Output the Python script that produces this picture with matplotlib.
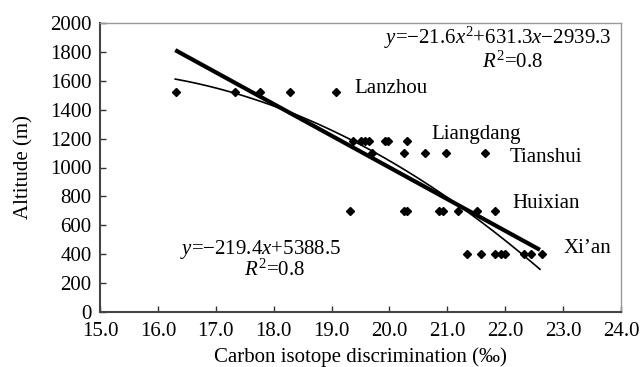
import numpy as np
import matplotlib
matplotlib.use("Agg")
import matplotlib.pyplot as plt

plt.rcParams['font.family'] = ['Liberation Serif', 'DejaVu Serif']
plt.rcParams['mathtext.fontset'] = 'custom'
plt.rcParams['mathtext.rm'] = 'Liberation Serif'
plt.rcParams['mathtext.it'] = 'Liberation Serif:italic'

# Data points (carbon isotope discrimination, altitude)
x_1520 = [16.31, 17.33, 17.76, 18.28, 19.08]
x_1180 = [19.37, 19.50, 19.58, 19.65, 19.92, 19.97, 20.30]
x_1100 = [19.70, 20.25, 20.61, 20.98, 21.65]
x_700 = [19.32, 20.25, 20.30, 20.86, 20.92, 21.18, 21.51, 21.82]
x_400 = [21.34, 21.58, 21.82, 21.92, 21.99, 22.32, 22.44, 22.63]
altitudes = [1520, 1180, 1100, 700, 400]

lin_coef = [-219.4, 5388.5]
quad_coef = [-21.6, 631.3, -2939.3]
fit_range = [16.3, 22.6]

sites = ["Lanzhou", "Liangdang", "Tianshui", "Huixian", "Xi’an"]
site_pos = [(19.40, 1550), (20.73, 1225), (22.08, 1066), (22.13, 754), (23.0, 436)]

fig = plt.figure(figsize=(6.44, 3.67), dpi=100)
ax = fig.add_axes([100/644, 1-312/367, 521/644, 289/367])

xs_all = []
ys_all = []
for xv, a in zip([x_1520, x_1180, x_1100, x_700, x_400], altitudes):
    xs_all += xv
    ys_all += [a] * len(xv)
ax.plot(xs_all, ys_all, linestyle='none', marker='D', markersize=3.6, color='black', zorder=3)

xf = np.linspace(fit_range[0], fit_range[1], 200)
ax.plot(xf, np.polyval(lin_coef, xf), color='black', lw=3.0, solid_capstyle='butt', zorder=2)
ax.plot(xf, np.polyval(quad_coef, xf), color='black', lw=1.2, zorder=2)

fs = 15
for s, (px, py) in zip(sites, site_pos):
    ax.text(px, py, s, fontsize=fs, ha='left', va='center')

ax.text(17.78, 430, r'$\mathit{y}$=−219.4$\mathit{x}$+5388.5', fontsize=fs, ha='center', va='center')
ax.text(18.02, 290, r'$\mathit{R}^2$=0.8', fontsize=fs, ha='center', va='center')
ax.text(21.87, 1900, r'$\mathit{y}$=−21.6$\mathit{x}^2$+631.3$\mathit{x}$−2939.3', fontsize=fs, ha='center', va='center')
ax.text(22.13, 1730, r'$\mathit{R}^2$=0.8', fontsize=fs, ha='center', va='center')

ax.set_xlim(15, 24)
ax.set_ylim(0, 2000)
ax.set_xticks(np.arange(15, 24.5, 1.0))
ax.set_xticklabels([f"{v:.1f}" for v in np.arange(15, 24.5, 1.0)])
ax.set_yticks(np.arange(0, 2001, 200))
ax.tick_params(direction='in', length=4, width=1.0, labelsize=fs, color='#333333')
ax.tick_params(axis='x', top=False, pad=7.5)
ax.tick_params(axis='y', right=False, pad=6)
for side in ['left', 'bottom']:
    ax.spines[side].set_color('#444444')
    ax.spines[side].set_linewidth(1.5)
for side in ['top', 'right']:
    ax.spines[side].set_color('#999999')
    ax.spines[side].set_linewidth(1.0)

ax.set_xlabel('Carbon isotope discrimination (‰)', fontsize=fs, labelpad=4)
ax.set_ylabel('Altitude (m)', fontsize=fs, labelpad=12)

fig.savefig('out.png', dpi=100)
